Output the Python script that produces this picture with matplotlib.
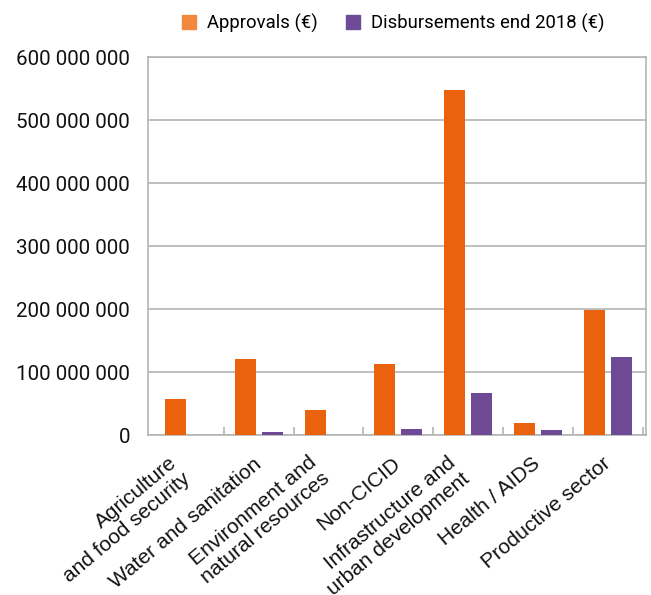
import numpy as np
import matplotlib.pyplot as plt
from matplotlib.patches import Patch
from matplotlib.ticker import FuncFormatter
from matplotlib.transforms import ScaledTranslation

sectors = ['Agriculture\nand food security', 'Water and sanitation',
           'Environment and\nnatural resources', 'Non-CICID',
           'Infrastructure and\nurban development', 'Health / AIDS',
           'Productive sector']
approvals = [57e6, 121e6, 40e6, 113e6, 547e6, 19e6, 199e6]
disbursements = [0, 5e6, 0, 10e6, 67e6, 8e6, 124e6]

orange = '#EA620D'
purple = '#6D4A93'
grey = '#B4B4B4'

fig = plt.figure(figsize=(6.51, 5.95), dpi=100)
ax = fig.add_axes([0.2273, 0.2689, 0.7650, 0.6353])

x = np.arange(len(sectors))
w = 0.30
ax.bar(x - 0.193, approvals, w, color=orange, zorder=3)
ax.bar(x + 0.193, disbursements, w, color=purple, zorder=3)

ax.set_ylim(0, 600e6)
ax.set_yticks(np.arange(0, 600e6 + 1, 100e6))
ax.yaxis.set_major_formatter(FuncFormatter(lambda v, p: f'{int(v):,}'.replace(',', ' ')))
ax.grid(axis='y', color=grey, linewidth=1.2, zorder=0)
for s in ax.spines.values():
    s.set_color(grey)
    s.set_linewidth(1.2)

ax.tick_params(axis='y', length=0, pad=13, labelsize=14.8, labelcolor='#111111')
for t in ax.get_yticklabels():
    t.set_fontfamily('Roboto')

# category separators drawn as inward minor ticks
ax.set_xticks(x + 0.5, minor=True)
ax.tick_params(axis='x', which='minor', direction='in', length=6, width=1.2, color=grey)
ax.set_xticks(x)
ax.set_xticklabels(sectors, rotation=40, ha='right', va='center',
                   rotation_mode='anchor', fontfamily='Liberation Sans',
                   fontsize=15, color='#111111', linespacing=1.15)
ax.tick_params(axis='x', which='major', length=0, pad=19)
ax.set_xlim(-0.587, 6.547)

# two-line labels sit a little further back along the slant
for t in ax.get_xticklabels():
    if '\n' in t.get_text():
        t.set_transform(t.get_transform() + ScaledTranslation(-0.08, -0.07, fig.dpi_scale_trans))

handles = [Patch(color='#F0883E', label='Approvals (€)'),
           Patch(color='#6E4B97', label='Disbursements end 2018 (€)')]
fig.legend(handles=handles, loc='center', bbox_to_anchor=(0.604, 0.961),
           ncol=2, frameon=False, prop={'family': 'Roboto', 'size': 13.3},
           handlelength=0.75, handleheight=0.75, handletextpad=0.6,
           columnspacing=1.5)

fig.savefig('out.png', dpi=100)
